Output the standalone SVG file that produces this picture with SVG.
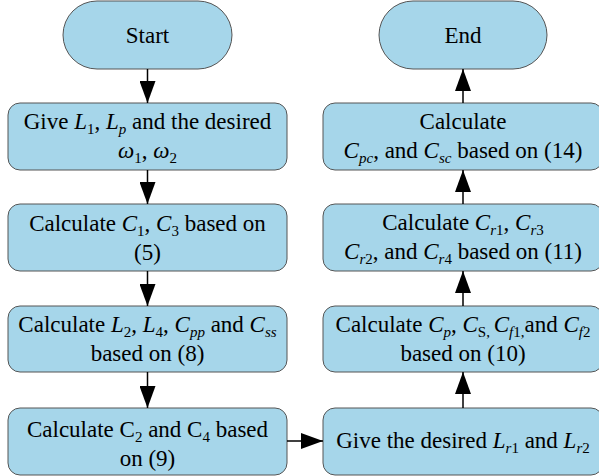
<svg xmlns="http://www.w3.org/2000/svg" width="599" height="476" viewBox="0 0 599 476">
<style>
.box{fill:#a6d6ea;stroke:#555;stroke-width:1}
.t{font-family:'Liberation Serif','Times New Roman',Times,'DejaVu Serif',serif;font-size:23px;fill:#000;text-anchor:middle}
.i{font-style:italic}
.s{font-size:15px}
.c{stroke:#000;stroke-width:1.5;fill:none}
</style>
<defs>
<marker id="ah" markerUnits="userSpaceOnUse" markerWidth="22" markerHeight="16" refX="22" refY="8" orient="auto">
<path d="M0,0 L22,8 L0,16 z" fill="#000"/>
</marker>
</defs>
<g id="start">
<rect class="box" x="63" y="1" width="169" height="68" rx="34"/>
<text class="t" x="147.5" y="43" font-family="Liberation Serif, serif">Start</text>
</g>
<g id="end">
<rect class="box" x="379" y="1" width="168" height="68" rx="34"/>
<text class="t" x="463" y="43">End</text>
</g>
<g id="b1">
<rect class="box" x="8" y="103" width="279" height="67" rx="12"/>
<text class="t" x="147.5" y="129">Give <tspan class="i">L</tspan><tspan class="s" dy="5">1</tspan><tspan dy="-5">, </tspan><tspan class="i">L</tspan><tspan class="s i" dy="5">p</tspan><tspan dy="-5"> and the desired</tspan></text>
<text class="t" x="147.5" y="158"><tspan class="i">ω</tspan><tspan class="s" dy="5">1</tspan><tspan dy="-5">, </tspan><tspan class="i">ω</tspan><tspan class="s" dy="5">2</tspan></text>
</g>
<g id="b2">
<rect class="box" x="8" y="204" width="279" height="67" rx="12"/>
<text class="t" x="147.5" y="231">Calculate <tspan class="i">C</tspan><tspan class="s" dy="5">1</tspan><tspan dy="-5">, </tspan><tspan class="i">C</tspan><tspan class="s" dy="5">3</tspan><tspan dy="-5"> based on</tspan></text>
<text class="t" x="147.5" y="260">(5)</text>
</g>
<g id="b3">
<rect class="box" x="8" y="306" width="279" height="66" rx="12"/>
<text class="t" x="147.5" y="332">Calculate <tspan class="i">L</tspan><tspan class="s" dy="5">2</tspan><tspan dy="-5">, </tspan><tspan class="i">L</tspan><tspan class="s" dy="5">4</tspan><tspan dy="-5">, </tspan><tspan class="i">C</tspan><tspan class="s i" dy="5">pp</tspan><tspan dy="-5"> and </tspan><tspan class="i">C</tspan><tspan class="s i" dy="5">ss</tspan></text>
<text class="t" x="147.5" y="361">based on (8)</text>
</g>
<g id="b4">
<rect class="box" x="8" y="408" width="279" height="67" rx="12"/>
<text class="t" x="147.5" y="437">Calculate C<tspan class="s" dy="5">2</tspan><tspan dy="-5"> and C</tspan><tspan class="s" dy="5">4</tspan><tspan dy="-5"> based</tspan></text>
<text class="t" x="147.5" y="466">on (9)</text>
</g>
<g id="r4">
<rect class="box" x="323" y="408" width="280" height="67" rx="12"/>
<text class="t" x="463" y="448">Give the desired  <tspan class="i">L</tspan><tspan class="s i" dy="5">r</tspan><tspan class="s">1</tspan><tspan dy="-5"> and </tspan><tspan class="i">L</tspan><tspan class="s i" dy="5">r</tspan><tspan class="s">2</tspan></text>
</g>
<g id="r3">
<rect class="box" x="323" y="306" width="280" height="66" rx="12"/>
<text class="t" x="463" y="332">Calculate <tspan class="i">C</tspan><tspan class="s i" dy="5">p</tspan><tspan dy="-5">, </tspan><tspan class="i">C</tspan><tspan class="s" dy="5">S, </tspan><tspan class="i" dy="-5">C</tspan><tspan class="s i" dy="5">f</tspan><tspan class="s">1,</tspan><tspan dy="-5">and </tspan><tspan class="i">C</tspan><tspan class="s i" dy="5">f</tspan><tspan class="s">2</tspan></text>
<text class="t" x="463" y="361">based on (10)</text>
</g>
<g id="r2">
<rect class="box" x="323" y="204" width="280" height="67" rx="12"/>
<text class="t" x="463" y="230">Calculate <tspan class="i">C</tspan><tspan class="s i" dy="5">r</tspan><tspan class="s">1</tspan><tspan dy="-5">, </tspan><tspan class="i">C</tspan><tspan class="s i" dy="5">r</tspan><tspan class="s">3</tspan></text>
<text class="t" x="463" y="259"><tspan class="i">C</tspan><tspan class="s i" dy="5">r</tspan><tspan class="s">2</tspan><tspan dy="-5">, and </tspan><tspan class="i">C</tspan><tspan class="s i" dy="5">r</tspan><tspan class="s">4</tspan><tspan dy="-5"> based on (11)</tspan></text>
</g>
<g id="r1">
<rect class="box" x="323" y="103" width="280" height="67" rx="12"/>
<text class="t" x="463" y="129">Calculate</text>
<text class="t" x="463" y="158"><tspan class="i">C</tspan><tspan class="s i" dy="5">pc</tspan><tspan dy="-5">, and </tspan><tspan class="i">C</tspan><tspan class="s i" dy="5">sc</tspan><tspan dy="-5"> based on (14)</tspan></text>
</g>
<g id="connectors">
<line class="c" x1="147.5" y1="69" x2="147.5" y2="103" marker-end="url(#ah)"/>
<line class="c" x1="147.5" y1="170" x2="147.5" y2="204" marker-end="url(#ah)"/>
<line class="c" x1="147.5" y1="271" x2="147.5" y2="306" marker-end="url(#ah)"/>
<line class="c" x1="147.5" y1="372" x2="147.5" y2="408" marker-end="url(#ah)"/>
<line class="c" x1="287" y1="441" x2="323" y2="441" marker-end="url(#ah)"/>
<line class="c" x1="463" y1="408" x2="463" y2="372" marker-end="url(#ah)"/>
<line class="c" x1="463" y1="306" x2="463" y2="271" marker-end="url(#ah)"/>
<line class="c" x1="463" y1="204" x2="463" y2="170" marker-end="url(#ah)"/>
<line class="c" x1="463" y1="103" x2="463" y2="69" marker-end="url(#ah)"/>
</g>
</svg>
